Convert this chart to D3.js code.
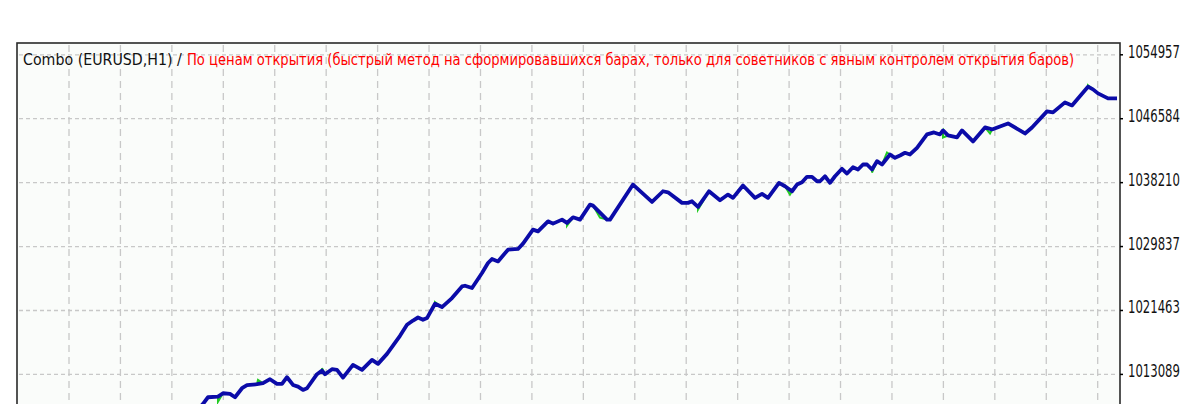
<!DOCTYPE html>
<html><head><meta charset="utf-8">
<script src="https://cdn.jsdelivr.net/npm/d3@7/dist/d3.min.js"></script>
<style>html,body{margin:0;padding:0;background:#fff;overflow:hidden}</style>
</head><body>
<svg id="c" width="1189" height="404"></svg>
<script>
const titleBlack = "Combo (EURUSD,H1) /";
const titleRed = "По ценам открытия (быстрый метод на сформировавшихся барах, только для советников с явным контролем открытия баров)";
const yTicks = [1013089, 1021463, 1029837, 1038210, 1046584, 1054957];
const tradeNo = [184,186,191,201,206,213,218,225,230,240,246,253,260,265,270,276,281,286,290,300,305,308,315,320,326,336,345,355,361,370,383,390,396,401,406,410,418,425,435,445,448,455,465,471,475,481,491,501,506,516,521,531,536,545,550,556,563,573,576,590,593,616,635,646,651,665,671,675,681,692,703,711,716,726,738,745,751,762,768,775,780,785,790,795,800,803,808,813,818,825,830,836,841,846,850,855,860,865,873,878,883,888,893,900,910,917,923,926,931,940,945,956,968,975,983,991,1008,1015,1030,1036,1048,1055,1071,1076,1081,1091,1100];
const balance = [1008954,1009216,1010096,1010174,1010621,1010529,1010096,1011277,1011671,1011802,1011933,1012458,1011841,1011841,1012721,1011710,1011487,1011054,1011277,1013114,1013587,1013114,1013771,1013679,1012668,1014335,1013679,1014991,1014466,1015779,1018141,1019585,1020149,1020543,1020241,1020464,1022341,1021908,1023089,1024612,1024704,1024402,1026371,1027683,1028208,1027893,1029429,1029521,1030216,1032054,1031831,1033143,1032841,1033366,1032933,1033668,1033366,1035335,1035204,1033366,1033366,1037960,1035689,1037081,1036949,1035558,1035558,1035768,1035033,1037081,1035899,1036648,1036214,1037829,1036214,1036739,1036214,1038183,1037737,1037081,1037960,1038262,1038971,1038971,1038393,1038393,1039049,1038183,1039049,1040021,1039404,1040231,1039929,1040585,1040585,1039929,1041018,1040585,1041898,1041464,1041766,1042121,1041898,1042777,1044523,1044785,1044523,1045048,1044391,1044129,1045048,1043604,1045441,1045179,1045573,1045966,1044654,1045441,1047541,1047410,1048723,1048329,1050783,1050429,1049904,1049248,1049248];
const equityTrade = [201,241,305,418,550,583,681,773,855,870,926,973,1071];
const equityValue = [1009518,1012366,1013902,1022564,1032579,1033629,1034679,1036648,1039535,1042160,1044129,1044654,1050954];

const svg = d3.select("#c");
const L = 17, R = 1120, T = 43, B = 520;
const x = d3.scaleLinear().domain([0, 1100]).range([L, 1117]);
const y = d3.scaleLinear().domain([yTicks[0], yTicks[yTicks.length-1]]).range([374.4, 54.8]);
const gx = d3.scaleLinear().domain([0, 20]).range([69, 1097.7]);

svg.append("rect").attr("x", L).attr("y", T).attr("width", R - L).attr("height", B - T).attr("fill", "#fafcfa");
svg.append("defs").append("clipPath").attr("id", "clip").append("rect").attr("x", L+1).attr("y", T+1).attr("width", R-L-2).attr("height", B-T);

const grid = svg.append("g");
grid.selectAll("line.v").data(d3.range(21)).join("line")
  .attr("x1", d => gx(d)).attr("x2", d => gx(d)).attr("y1", T + 2).attr("y2", B)
  .attr("stroke", "#c8c8c8").attr("stroke-width", 1.3).attr("stroke-dasharray", "7,5");
grid.selectAll("line.h").data(yTicks).join("line")
  .attr("x1", L + 2).attr("x2", R - 2).attr("y1", d => y(d)).attr("y2", d => y(d))
  .attr("stroke", "#c8c8c8").attr("stroke-width", 1.3).attr("stroke-dasharray", "4,3");

const bal = tradeNo.map((t, i) => [t, balance[i]]);
const eq = bal.concat(equityTrade.map((t, i) => [t, equityValue[i]])).sort((a, b) => a[0] - b[0]);
const line = d3.line().x(d => x(d[0])).y(d => y(d[1]));
const g = svg.append("g").attr("clip-path", "url(#clip)");
g.append("path").attr("d", line(eq)).attr("fill", "none").attr("stroke", "#22cc22").attr("stroke-width", 2);
g.append("path").attr("d", line(bal)).attr("fill", "none").attr("stroke", "#0b0ba8").attr("stroke-width", 3.8).attr("stroke-linejoin", "round");

// frame
svg.append("rect").attr("x", L).attr("y", T).attr("width", R - L).attr("height", B - T)
  .attr("fill", "none").attr("stroke", "#2a2a2a").attr("stroke-width", 1.6);

function fitText(sel, x0, y0, target, sy) {
  const w = sel.node().getComputedTextLength();
  sel.attr("x", 0).attr("y", 0)
     .attr("transform", `translate(${x0},${y0}) scale(${target / w},${sy})`);
}

// right axis
const ax = svg.append("g");
ax.selectAll("line").data(yTicks).join("line")
  .attr("x1", R).attr("x2", R + 3).attr("y1", d => y(d)).attr("y2", d => y(d)).attr("stroke", "#000").attr("stroke-width", 1.5);
ax.selectAll("text").data(yTicks).join("text")
  .attr("font-family", "DejaVu Sans").attr("font-size", 12).attr("fill", "#111")
  .text(d => d)
  .each(function(d) { fitText(d3.select(this), 1128, y(d) + 3, 52, 1.4); });

const tb = svg.append("text").attr("font-family", "DejaVu Sans").attr("font-size", 13)
  .attr("fill", "#111").text(titleBlack);
fitText(tb, 23, 65, 159, 1.2);
const tr = svg.append("text").attr("font-family", "DejaVu Sans").attr("font-size", 13)
  .attr("fill", "#ff0000").text(titleRed);
fitText(tr, 187, 65, 888, 1.2);
</script>
</body></html>
